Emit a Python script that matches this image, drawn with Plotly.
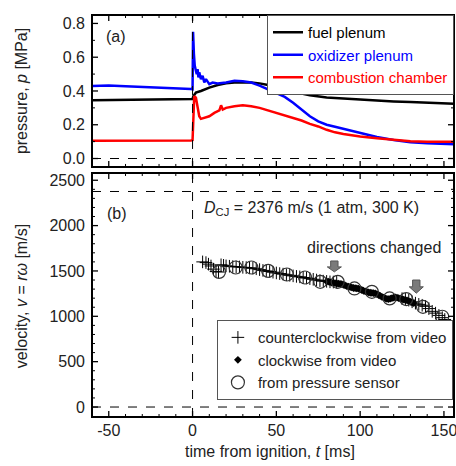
import plotly.graph_objects as go

# ---------------- data: panel (a) pressure ----------------
fuel_t = [-60, -45, -30, -15, -5, 0, 0.5, 2, 5, 10, 15, 20, 25, 30, 35, 40, 45, 50, 55, 60, 65, 70,
          80, 90, 100, 110, 120, 130, 140, 150, 156]
fuel_p = [0.345, 0.348, 0.350, 0.352, 0.353, 0.353, 0.370, 0.390, 0.400, 0.420, 0.435, 0.445, 0.450,
          0.452, 0.450, 0.445, 0.435, 0.420, 0.405, 0.395, 0.385, 0.375, 0.362, 0.355, 0.348, 0.342,
          0.338, 0.334, 0.330, 0.327, 0.325]

oxid_t = [-60, -50, -40, -30, -20, -10, -1, 0, 0.3, 0.8, 1.3, 2, 2.5, 3, 3.5, 4, 5, 6, 7, 8, 10, 12,
          15, 20, 25, 30, 35, 40, 45, 50, 55, 60, 65, 70, 75, 80, 85, 90, 95, 100, 105, 110, 120,
          130, 140, 150, 156]
oxid_p = [0.430, 0.432, 0.428, 0.425, 0.422, 0.418, 0.412, 0.410, 0.750, 0.620, 0.550, 0.520, 0.500,
          0.530, 0.480, 0.510, 0.470, 0.490, 0.450, 0.470, 0.440, 0.450, 0.445, 0.450, 0.460, 0.458,
          0.450, 0.432, 0.410, 0.390, 0.365, 0.330, 0.290, 0.250, 0.220, 0.200, 0.188, 0.175, 0.162,
          0.150, 0.138, 0.127, 0.110, 0.097, 0.090, 0.087, 0.085]

comb_t = [-60, -40, -20, -1, 0, 0.5, 1, 2, 3, 4, 5, 7, 10, 13, 16, 17, 18, 20, 25, 30, 35, 40, 45,
          50, 55, 60, 65, 70, 75, 80, 85, 90, 95, 100, 110, 120, 130, 140, 150, 156]
comb_p = [0.105, 0.105, 0.106, 0.107, 0.110, 0.300, 0.370, 0.360, 0.300, 0.250, 0.235, 0.240, 0.250,
          0.270, 0.285, 0.315, 0.290, 0.300, 0.310, 0.315, 0.310, 0.300, 0.285, 0.270, 0.255, 0.240,
          0.225, 0.205, 0.190, 0.170, 0.155, 0.145, 0.137, 0.130, 0.120, 0.110, 0.102, 0.100, 0.098,
          0.100]

# ---------------- data: panel (b) velocity ----------------
ccw_t = [6, 8, 9.5, 11, 12.5, 14, 15.5, 17, 18.5, 20, 22, 24, 26, 28, 30, 32, 34, 36, 38, 40, 42, 44,
         46, 48, 50, 52, 54, 56, 58, 60, 62, 64, 66, 68, 70, 72, 74, 76, 78, 80, 82, 84, 86,
         125, 127, 129, 131, 133, 135, 137, 139, 141, 143, 145, 147, 149, 150.5]
ccw_v = [1600, 1592, 1575, 1555, 1520, 1495, 1488, 1568, 1562, 1556, 1552, 1548, 1546, 1544, 1540,
         1537, 1534, 1530, 1524, 1515, 1506, 1500, 1494, 1486, 1478, 1471, 1465, 1458, 1452, 1446,
         1440, 1435, 1428, 1422, 1415, 1408, 1400, 1393, 1388, 1385, 1380, 1378, 1375,
         1195, 1188, 1178, 1160, 1145, 1132, 1122, 1110, 1085, 1055, 1035, 1010, 985, 965]

cw_t = [80, 81, 82, 83, 84, 85, 86, 87, 88, 89, 90, 91, 92, 93, 94, 95, 96, 97, 98, 99, 100, 101, 102,
        103, 104, 105, 106, 107, 108, 109, 110, 111, 112, 113, 114, 115, 116, 117, 118, 119, 120,
        121, 122, 123, 124, 125, 126, 127, 128, 129, 130, 131, 132]
cw_v = [1385, 1382, 1378, 1372, 1368, 1365, 1362, 1360, 1358, 1355, 1348, 1340, 1332, 1328, 1322,
        1318, 1312, 1310, 1308, 1305, 1298, 1290, 1282, 1275, 1268, 1264, 1260, 1258, 1255, 1252,
        1245, 1235, 1225, 1215, 1205, 1198, 1192, 1190, 1195, 1200, 1205, 1208, 1205, 1200, 1195,
        1190, 1185, 1180, 1175, 1168, 1160, 1152, 1145]

ps_t = [15.8, 25.7, 35.1, 45.1, 56.3, 67.1, 76.2, 86.6, 96.6, 107.0, 117.6, 127.5, 137.5, 149.0]
ps_v = [1490, 1538, 1538, 1501, 1461, 1428, 1380, 1380, 1307, 1270, 1197, 1190, 1105, 995]

D_CJ = 2376

# ---------------- ticks ----------------
x_major = [-50, 0, 50, 100, 150]
x_minor = [-60, -40, -30, -20, -10, 10, 20, 30, 40, 60, 70, 80, 90, 110, 120, 130, 140]
p_major = [0.0, 0.2, 0.4, 0.6, 0.8]
p_minor = [0.1, 0.3, 0.5, 0.7]
v_major = [0, 500, 1000, 1500, 2000, 2500]
v_minor = [100, 200, 300, 400, 600, 700, 800, 900, 1100, 1200, 1300, 1400, 1600, 1700, 1800, 1900,
           2100, 2200, 2300, 2400]

FONT = "Liberation Sans, Arial, sans-serif"

fig = go.Figure()

# panel (a)
fig.add_trace(go.Scatter(x=fuel_t, y=fuel_p, mode="lines", line=dict(color="black", width=2.5),
                         name="<span style='color:black'>fuel plenum</span>", xaxis="x", yaxis="y",
                         legend="legend"))
fig.add_trace(go.Scatter(x=oxid_t, y=oxid_p, mode="lines", line=dict(color="#0000ff", width=2.5),
                         name="<span style='color:#0000ff'>oxidizer plenum</span>", xaxis="x", yaxis="y",
                         legend="legend"))
fig.add_trace(go.Scatter(x=comb_t, y=comb_p, mode="lines", line=dict(color="#ff0000", width=2.5),
                         name="<span style='color:#ff0000'>combustion chamber</span>", xaxis="x", yaxis="y",
                         legend="legend"))

# panel (b)
fig.add_trace(go.Scatter(x=ccw_t, y=ccw_v, mode="markers",
                         marker=dict(symbol="cross-thin", size=9, line=dict(color="black", width=1)),
                         name="counterclockwise from video", xaxis="x2", yaxis="y2", legend="legend2"))
fig.add_trace(go.Scatter(x=cw_t, y=cw_v, mode="markers",
                         marker=dict(symbol="diamond", size=6, color="black"),
                         name="clockwise from video", xaxis="x2", yaxis="y2", legend="legend2"))
fig.add_trace(go.Scatter(x=ps_t, y=ps_v, mode="markers",
                         marker=dict(symbol="circle-open", size=13, color="#333333",
                                     line=dict(color="#333333", width=1.2)),
                         name="from pressure sensor", xaxis="x2", yaxis="y2", legend="legend2"))

tickfont = dict(family=FONT, size=16, color="#222")
fig.update_layout(
    template="none",
    width=456, height=466,
    margin=dict(l=92, r=2, t=15, b=49, autoexpand=False),
    paper_bgcolor="white", plot_bgcolor="white",
    font=dict(family=FONT, size=16, color="#222"),
    xaxis=dict(domain=[0, 1], anchor="y", range=[-60, 156], showticklabels=False),
    yaxis=dict(domain=[0.622, 1], anchor="x", range=[-0.05, 0.85], tickmode="array",
               tickvals=p_major, ticktext=[f"{p:.1f}" for p in p_major], ticklabelstandoff=6),
    xaxis2=dict(domain=[0, 1], anchor="y2", range=[-60, 156], tickmode="array",
                tickvals=x_major, ticktext=[str(v) for v in x_major], ticklabelstandoff=2,
                ticklabeloverflow="allow"),
    yaxis2=dict(domain=[0, 0.607], anchor="x2", range=[-110, 2580], tickmode="array",
                tickvals=v_major, ticktext=[str(v) for v in v_major], ticklabelstandoff=6),
    legend=dict(x=1, y=1, xanchor="right", yanchor="top", bgcolor="white",
                bordercolor="#555", borderwidth=1, font=dict(family=FONT, size=15),
                tracegroupgap=0),
    legend2=dict(x=0.997, y=0.042, xanchor="right", yanchor="bottom", bgcolor="white",
                 bordercolor="#555", borderwidth=1, font=dict(family=FONT, size=15, color="#222"),
                 tracegroupgap=0),
)
fig.update_xaxes(showline=False, ticks="", showgrid=False, zeroline=False, automargin=False,
                 tickfont=tickfont)
fig.update_yaxes(showline=False, ticks="", showgrid=False, zeroline=False, automargin=False,
                 tickfont=tickfont)

dash = dict(color="black", width=1, dash="dash")
shapes = [
    dict(type="line", xref="x", yref="y domain", x0=0, x1=0, y0=0, y1=1, line=dash),
    dict(type="line", xref="x domain", yref="y", x0=0, x1=1, y0=0, y1=0, line=dash),
    dict(type="line", xref="x2", yref="y2 domain", x0=0, x1=0, y0=0, y1=1, line=dash),
    dict(type="line", xref="x2 domain", yref="y2", x0=0, x1=1, y0=0, y1=0, line=dash),
    dict(type="line", xref="x2 domain", yref="y2", x0=0, x1=1, y0=D_CJ, y1=D_CJ, line=dash),
]

# block arrows marking the direction change (center t, top v, head-start v, tip v)
arrows = [(84.6, 1610, 1545, 1490), (133.5, 1400, 1325, 1255)]
for (cx, top, head, tip) in arrows:
    bw, hw = 2.2, 4.2
    path = (f"M {cx-bw},{top} L {cx+bw},{top} L {cx+bw},{head} L {cx+hw},{head} "
            f"L {cx},{tip} L {cx-hw},{head} L {cx-bw},{head} Z")
    shapes.append(dict(type="path", xref="x2", yref="y2", path=path,
                       fillcolor="#7a7a7a", line=dict(color="#555", width=1)))

# frame and inside ticks on all four sides of each panel
MAJ, MINL = 6, 3
for xa, ya, ymaj, ymin in (("x", "y", p_major, p_minor), ("x2", "y2", v_major, v_minor)):
    for vals, ln, w in ((x_major, MAJ, 1.3), (x_minor, MINL, 1)):
        for v in vals:
            for anchor, sgn in ((0, 1), (1, -1)):
                shapes.append(dict(type="line", xref=xa, yref=f"{ya} domain", ysizemode="pixel",
                                   yanchor=anchor, x0=v, x1=v, y0=0, y1=sgn * ln,
                                   line=dict(color="black", width=w)))
    for vals, ln, w in ((ymaj, MAJ, 1.3), (ymin, MINL, 1)):
        for v in vals:
            for anchor, sgn in ((0, 1), (1, -1)):
                shapes.append(dict(type="line", xref=f"{xa} domain", yref=ya, xsizemode="pixel",
                                   xanchor=anchor, x0=0, x1=sgn * ln, y0=v, y1=v,
                                   line=dict(color="black", width=w)))
    shapes.append(dict(type="rect", xref=f"{xa} domain", yref=f"{ya} domain", x0=0, x1=1, y0=0, y1=1,
                       line=dict(color="black", width=2), fillcolor="rgba(0,0,0,0)"))
fig.update_layout(shapes=shapes)

ann = [
    dict(text="(a)", x=-45.5, y=0.72, xref="x", yref="y", showarrow=False),
    dict(text="(b)", x=-45, y=2137, xref="x2", yref="y2", showarrow=False),
    dict(text="<i>D</i><sub>CJ</sub> = 2376 m/s (1 atm, 300 K)", x=5.5, y=2192, xref="x2", yref="y2",
         xanchor="left", yanchor="middle", showarrow=False),
    dict(text="directions changed", x=108, y=1762, xref="x2", yref="y2", showarrow=False),
    dict(text="pressure, <i>p</i> [MPa]", x=-0.193, y=0.811, xref="paper", yref="paper",
         xanchor="center", yanchor="middle", textangle=-90, showarrow=False),
    dict(text="velocity, <i>v</i> = <i>rω</i> [m/s]", x=-0.193, y=0.301, xref="paper", yref="paper",
         xanchor="center", yanchor="middle", textangle=-90, showarrow=False),
    dict(text="time from ignition, <i>t</i> [ms]", x=0.492, y=-0.087, xref="paper", yref="paper",
         xanchor="center", yanchor="middle", showarrow=False),
]
for a in ann:
    a["font"] = dict(family=FONT, size=16, color="#222")
fig.update_layout(annotations=ann)

fig.write_html("out.html", config={"displayModeBar": False},
               post_script="document.body.style.margin='0px';")
